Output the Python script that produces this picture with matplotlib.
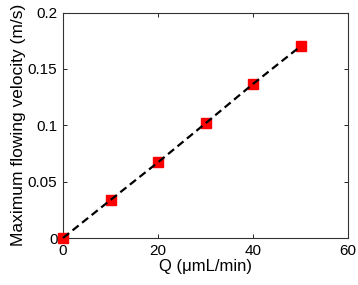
import matplotlib
matplotlib.use("Agg")
import matplotlib.pyplot as plt

plt.rcParams['font.family'] = ['Liberation Sans', 'DejaVu Sans']

# flow rate Q and max flowing velocity
flow_rate = [0, 10, 20, 30, 40, 50]
velocity = [0.0, 0.0337, 0.0671, 0.1017, 0.1366, 0.170]

fig = plt.figure(figsize=(3.58, 2.85), dpi=100)
ax = fig.add_axes([63/358, 1-238/285, 285/358, 225.5/285])

# squares first, dashed line on top (not clipped so the origin point shows whole)
ax.plot(flow_rate, velocity, 's', color='red', markersize=7.5, zorder=3, clip_on=False)
ax.plot(flow_rate, velocity, '--', color='black', linewidth=1.6, dashes=(3.5, 2), zorder=4, clip_on=False)

ax.set_xlim(0, 60)
ax.set_ylim(0, 0.2)
ax.set_xticks([0, 20, 40, 60])
ax.set_yticks([0, 0.05, 0.1, 0.15, 0.2])
ax.set_yticklabels(['0', '0.05', '0.1', '0.15', '0.2'])
ax.tick_params(direction='in', top=True, right=True, labelsize=11, length=3, width=0.6, pad=4)
for s in ax.spines.values():
    s.set_linewidth(0.8)
    s.set_color('#333333')

ax.set_xlabel('Q (μmL/min)', fontsize=12, labelpad=1)
ax.set_ylabel('Maximum flowing velocity (m/s)', fontsize=12.5, labelpad=1)

fig.savefig('out.png', dpi=100)
